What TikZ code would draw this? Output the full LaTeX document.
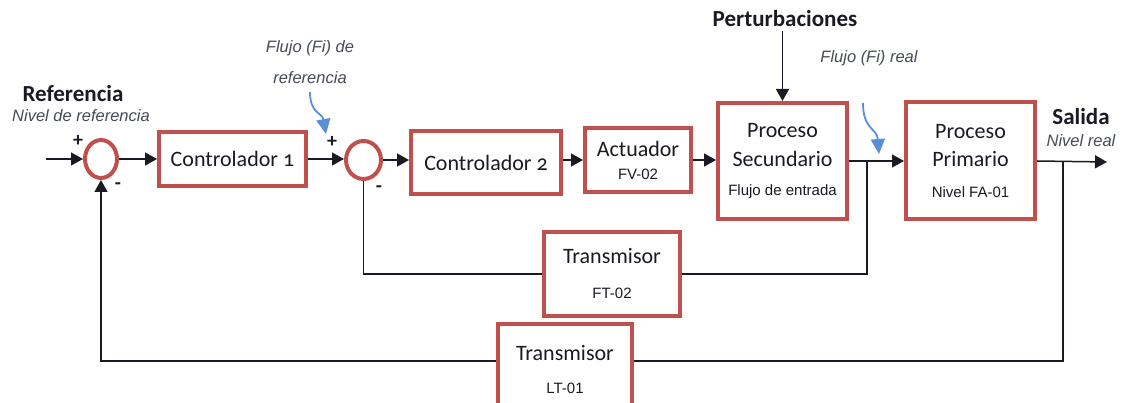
\documentclass[tikz,border=0pt]{standalone}
\usepackage{fontspec}
\setmainfont{Carlito}[Numbers=OldStyle]
\newfontfamily\notefont{Liberation Sans}
\usetikzlibrary{arrows.meta,shapes.geometric}
\definecolor{blockRed}{HTML}{C0504D}
\definecolor{ink}{HTML}{1A1A24}
\definecolor{noteGray}{HTML}{454B55}
\definecolor{hintBlue}{HTML}{5A8FD8}
\newcommand{\tagtext}[1]{{\notefont\fontsize{15}{17}\selectfont #1}}
\tikzset{
  every node/.style={text=ink},
  block box/.style={
    draw=blockRed,
    fill=white,
    line width=4pt,
    align=center,
    inner sep=2pt,
    font=\fontsize{22}{24}\selectfont
  },
  sum node/.style={
    ellipse,
    draw=blockRed,
    line width=4pt,
    minimum width=32pt,
    minimum height=38pt,
    inner sep=0pt
  },
  signal arrow/.style={-{Triangle[length=12pt,width=13pt]},line width=1.5pt,draw=ink},
  signal line/.style={line width=1.5pt,draw=ink},
  hint arrow/.style={-{Triangle[length=15pt,width=14pt]},line width=1.8pt,draw=hintBlue},
  title label/.style={font=\bfseries\fontsize{23}{25}\selectfont},
  note label/.style={font=\notefont\itshape\fontsize{16.5}{19}\selectfont,text=noteGray,align=center},
  sign label/.style={font=\bfseries\fontsize{20}{20}\selectfont,inner sep=0pt},
}

\begin{document}
\begin{tikzpicture}[x=1pt,y=-1pt]
  \path[use as bounding box,clip] (0,0) rectangle (1123,403);

  % sums and blocks of the cascade loop
  \node[sum node] (sumA) at (101,159) {};
  \node[block box,minimum width=147pt,minimum height=54pt] (ctrlA) at (232.5,159)
    {Controlador 1};
  \node[sum node,minimum width=35pt] (sumB) at (363.5,160) {};
  \node[block box,minimum width=150pt,minimum height=63pt] (ctrlB) at (486,163)
    {Controlador 2};
  \node[block box,minimum width=106pt,minimum height=64pt] (act) at (638,160)
    {Actuador\\[-1pt]\tagtext{FV-02}};
  \node[block box,minimum width=129pt,minimum height=116pt] (procS) at (782.5,161)
    {Proceso\\[5pt]Secundario\\[5pt]\tagtext{Flujo de entrada}};
  \node[block box,minimum width=129pt,minimum height=117pt] (procP) at (970.5,161)
    {Proceso\\[4pt]Primario\\[7pt]\tagtext{Nivel FA-01}};
  \node[block box,minimum width=136pt,minimum height=84pt] (transF) at (612,274)
    {Transmisor\\[11pt]\tagtext{FT-02}};
  \node[block box,minimum width=134pt,minimum height=92pt] (transL) at (565,370)
    {Transmisor\\[9pt]\tagtext{LT-01}};

  % labels
  \node[title label] (refTitle) at (73,94) {Referencia};
  \node[note label] (refNote) at (81,116) {Nivel de referencia};
  \node[note label] (flowRef) at (310,62) {Flujo (Fi) de\\[12pt]referencia};
  \node[title label] (pert) at (785,19) {Perturbaciones};
  \node[note label] (flowReal) at (869,58) {Flujo (Fi) real};
  \node[title label] (outTitle) at (1081,117) {Salida};
  \node[note label] (outNote) at (1081,141) {Nivel real};
  \node[sign label] (plusA) at (78,141) {+};
  \node[sign label] (minusA) at (118,186) {-};
  \node[sign label] (plusB) at (332,142) {+};
  \node[sign label] (minusB) at (379,189) {-};

  \coordinate (inA) at (46,159);
  \coordinate (jF) at (867,162);
  \coordinate (jL) at (1063,162);
  \coordinate (outP) at (1107,162);
  \coordinate (hintA) at (310,92);
  \coordinate (hintAend) at (326,134);
  \coordinate (hintB) at (863,103);
  \coordinate (hintBend) at (879,154);

  % forward path
  \draw[signal arrow] (inA) -- (sumA.west);
  \draw[signal arrow] (sumA.east) -- (sumA.east -| ctrlA.west);
  \draw[signal arrow] (ctrlA.east) -- (ctrlA.east -| sumB.west);
  \draw[signal arrow] (sumB.east) -- (sumB.east -| ctrlB.west);
  \draw[signal arrow] (ctrlB.east |- act.east) -- (act.west);
  \draw[signal arrow] (act.east) -- (act.east -| procS.west);
  \draw[signal arrow] (procS.east) -- (procS.east -| procP.west);
  \draw[signal arrow] (procP.east) -- (outP);
  \draw[signal arrow] (procS.north |- pert.south) -- (procS.north);

  % feedback paths
  \draw[signal line] (jF) |- (transF.east);
  \draw[signal line] (transF.west) -| (sumB.south);
  \draw[signal line] (jL) |- ([yshift=9pt]transL.east);
  \draw[signal arrow] ([yshift=9pt]transL.west) -| (sumA.south);

  % flow hints
  \draw[hint arrow] (hintA) .. controls (310,114) and (322,112) .. (hintAend);
  \draw[hint arrow] (hintB) .. controls (863,130) and (877,128) .. (hintBend);

\end{tikzpicture}
\end{document}
